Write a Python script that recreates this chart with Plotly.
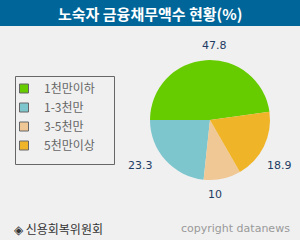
import math
import plotly.graph_objects as go

categories = ["1천만이하", "1-3천만", "3-5천만", "5천만이상"]
values = [47.8, 23.3, 10, 18.9]
colors = ["#66cc00", "#7ec6ce", "#f0c896", "#f0b428"]
title = "노숙자 금융채무액수 현황(%)"
source = "◈ 신용회복위원회"
credit = "copyright datanews"

W, H = 300, 240
dom_x = [0.498, 0.902]
dom_y = [0.25, 0.75]

fig = go.Figure()
fig.add_trace(go.Pie(
    labels=categories, values=values, sort=False, direction="counterclockwise",
    rotation=-90, marker=dict(colors=colors, line=dict(width=0)),
    textinfo="none", showlegend=False, hoverinfo="label+value",
    domain=dict(x=dom_x, y=dom_y),
))
for c, col in zip(categories, colors):
    fig.add_trace(go.Scatter(
        x=[None], y=[None], mode="markers", name=c,
        marker=dict(symbol="square", size=9, color=col, line=dict(color="#666666", width=1)),
    ))

# value labels placed around the pie from the cumulative slice angles
cx = (dom_x[0] + dom_x[1]) / 2 * W
cy = (dom_y[0] + dom_y[1]) / 2 * H
r_lab = 66
total = sum(values)
annotations = []
cum = 0
for v in values:
    ang = math.radians(360 * (cum + v / 2) / total)
    cum += v
    c, s = math.cos(ang), math.sin(ang)
    px, py = cx + r_lab * c, cy + r_lab * s
    xa = "left" if c > 0.3 else ("right" if c < -0.3 else "center")
    ya = "bottom" if s > 0.5 else ("top" if s < -0.5 else "middle")
    annotations.append(dict(text=f"{v:g}", xref="paper", yref="paper", x=px / W, y=py / H,
                            showarrow=False, xanchor=xa, yanchor=ya,
                            font=dict(family="DejaVu Sans", size=11, color="#1f3c64")))

annotations += [
    dict(text="<b>" + title + "</b>", xref="paper", yref="paper", x=0.5, y=1 - 13 / H,
         showarrow=False, font=dict(family="Noto Sans CJK KR", size=15, color="white"),
         xanchor="center", yanchor="middle"),
    dict(text=source, xref="paper", yref="paper", x=12 / W, y=1 - 228 / H,
         showarrow=False, font=dict(family="Noto Sans CJK KR", size=12, color="#333333"),
         xanchor="left", yanchor="middle"),
    dict(text=credit, xref="paper", yref="paper", x=292 / W, y=1 - 228 / H,
         showarrow=False, font=dict(family="DejaVu Sans", size=11, color="#999999"),
         xanchor="right", yanchor="middle"),
]

fig.update_layout(
    width=W, height=H, margin=dict(l=0, r=0, t=0, b=0),
    paper_bgcolor="#f0f0f0", plot_bgcolor="#f0f0f0",
    xaxis=dict(visible=False), yaxis=dict(visible=False),
    legend=dict(x=4 / W, y=1 - 74 / H, xanchor="left", yanchor="top",
                bgcolor="rgba(0,0,0,0)", borderwidth=0,
                font=dict(family="Noto Sans CJK KR", size=12, color="#666666"),
                tracegroupgap=0, itemwidth=30),
    shapes=[
        dict(type="rect", xref="paper", yref="paper", x0=0, x1=1, y0=1 - 26 / H, y1=1,
             fillcolor="#006699", line=dict(width=0), layer="below"),
        dict(type="rect", xref="paper", yref="paper", x0=15.5 / W, x1=114.5 / W,
             y0=1 - 164.5 / H, y1=1 - 76.5 / H, fillcolor="rgba(0,0,0,0)",
             line=dict(color="#666666", width=1), layer="below"),
    ],
    annotations=annotations,
)
fig.write_html("out.html")
